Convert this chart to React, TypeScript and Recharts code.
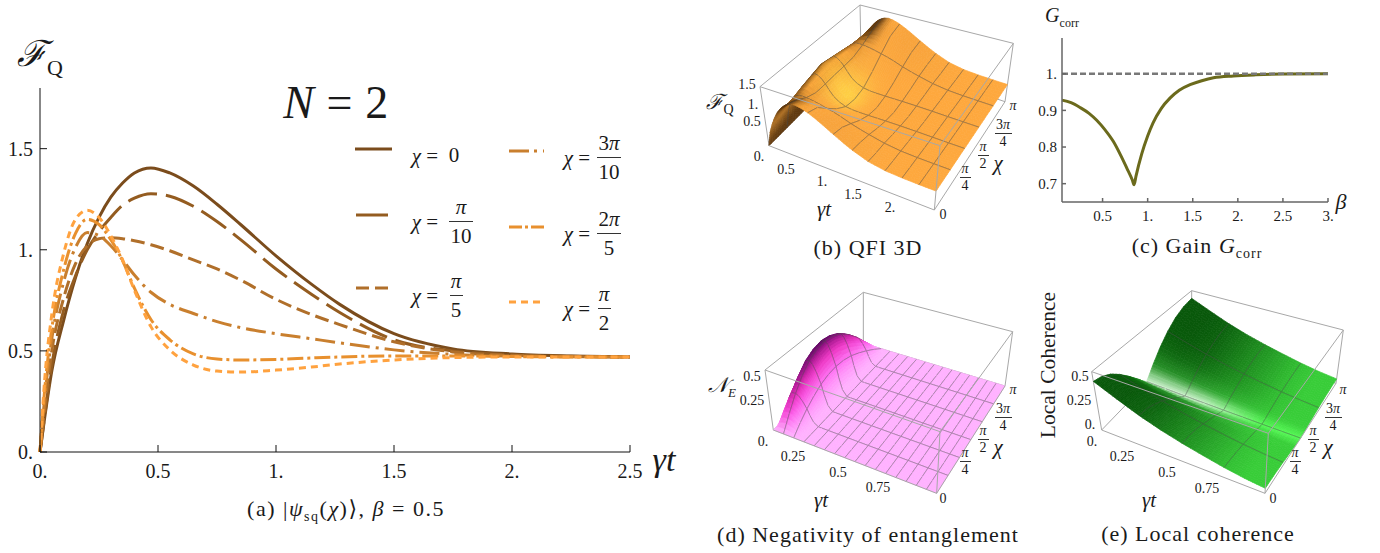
import { LineChart, Line, ScatterChart, Scatter, XAxis, YAxis } from 'recharts'

const SERIF = '"Liberation Serif", "DejaVu Serif", serif'

// panel (a): F_Q against gamma t for each chi
const gammaT = [0, 0.02, 0.05, 0.1, 0.15, 0.2, 0.25, 0.3, 0.35, 0.4, 0.47, 0.55, 0.65, 0.75, 0.85, 1, 1.15, 1.27, 1.5, 1.75, 2, 2.25, 2.5]
const chi0 = [0, 0.17, 0.4, 0.65, 0.86, 1.03, 1.16, 1.26, 1.33, 1.38, 1.405, 1.38, 1.315, 1.225, 1.125, 0.97, 0.83, 0.73, 0.585, 0.51, 0.485, 0.475, 0.47]
const chiPi10 = [0, 0.18, 0.43, 0.7, 0.87, 1.0, 1.09, 1.16, 1.22, 1.255, 1.277, 1.265, 1.215, 1.14, 1.05, 0.905, 0.78, 0.69, 0.555, 0.5, 0.48, 0.473, 0.47]
const chiPi5 = [0, 0.22, 0.5, 0.76, 0.93, 1.02, 1.055, 1.06, 1.055, 1.045, 1.025, 0.995, 0.95, 0.905, 0.85, 0.755, 0.68, 0.63, 0.545, 0.495, 0.478, 0.472, 0.47]
const chi3Pi10 = [0, 0.27, 0.56, 0.84, 1.01, 1.085, 1.07, 1.02, 0.95, 0.875, 0.79, 0.73, 0.685, 0.645, 0.615, 0.585, 0.56, 0.54, 0.505, 0.483, 0.474, 0.471, 0.47]
const chi2Pi5 = [0, 0.31, 0.61, 0.9, 1.08, 1.15, 1.125, 1.05, 0.945, 0.81, 0.655, 0.555, 0.485, 0.46, 0.455, 0.458, 0.465, 0.47, 0.475, 0.475, 0.472, 0.47, 0.47]
const chiPi2 = [0, 0.36, 0.68, 0.98, 1.15, 1.195, 1.16, 1.07, 0.95, 0.8, 0.62, 0.505, 0.43, 0.4, 0.395, 0.405, 0.42, 0.435, 0.455, 0.467, 0.47, 0.47, 0.47]

const tableA = gammaT.map((t, i) => ({
  t,
  chi0: chi0[i],
  chiPi10: chiPi10[i],
  chiPi5: chiPi5[i],
  chi3Pi10: chi3Pi10[i],
  chi2Pi5: chi2Pi5[i],
  chiPi2: chiPi2[i],
}))

const seriesA = [
  { key: 'chi0', color: '#7b4c1c', dash: undefined },
  { key: 'chiPi10', color: '#945c20', dash: '30 9' },
  { key: 'chiPi5', color: '#b06f2a', dash: '14 6' },
  { key: 'chi3Pi10', color: '#c97f2e', dash: '20 6 3 6' },
  { key: 'chi2Pi5', color: '#e8902e', dash: '16 4 3 4' },
  { key: 'chiPi2', color: '#ffa23f', dash: '7 5' },
]

// panel (c): gain
const beta = [0.05, 0.15, 0.25, 0.35, 0.435, 0.53, 0.62, 0.7, 0.77, 0.83, 0.85, 0.87, 0.935, 1.0, 1.06, 1.15, 1.25, 1.35, 1.47, 1.6, 1.73, 1.95, 2.2, 2.5, 3]
const gain = [0.928, 0.921, 0.908, 0.892, 0.873, 0.846, 0.815, 0.778, 0.742, 0.71, 0.697, 0.72, 0.782, 0.83, 0.866, 0.905, 0.934, 0.955, 0.97, 0.981, 0.989, 0.994, 0.997, 0.999, 1]
const tableC = beta.map((b, i) => ({ b, g: gain[i], level: 1 }))

// panel (d): negativity, half of the chi range (the other half mirrors it)
const negT = [0, 0.02, 0.04, 0.0625, 0.08, 0.1, 0.125, 0.14, 0.16, 0.1875, 0.21, 0.25, 0.3125, 0.375, 0.4375, 0.5, 0.5625, 0.625, 0.6875, 0.75, 0.8125, 0.875, 0.9375, 1]
const negFlat = [0, 0, 0, 0, 0, 0, 0, 0, 0, 0, 0, 0, 0]
const negRows = [
  [0, 0, 0, 0, 0, 0, 0, 0, 0, 0, 0],
  [0, 0.11, 0.14, 0.14, 0.135, 0.11, 0.08, 0.045, 0.015, 0, 0],
  [0, 0.21, 0.27, 0.275, 0.26, 0.22, 0.15, 0.09, 0.03, 0, 0],
  [0, 0.3, 0.38, 0.39, 0.37, 0.31, 0.21, 0.12, 0.04, 0, 0],
  [0, 0.36, 0.47, 0.48, 0.45, 0.38, 0.26, 0.155, 0.05, 0, 0],
  [0, 0.4, 0.52, 0.53, 0.5, 0.425, 0.29, 0.17, 0.055, 0, 0],
  [0, 0.42, 0.54, 0.55, 0.52, 0.44, 0.3, 0.18, 0.06, 0, 0],
]
const negChi = [0, 1 / 12, 2 / 12, 3 / 12, 4 / 12, 5 / 12, 6 / 12, 7 / 12, 8 / 12, 9 / 12, 10 / 12, 11 / 12, 1]

// panel (e): local coherence, half of the chi range
const cohT = [0, 0.125, 0.25, 0.375, 0.5, 0.625, 0.75, 0.875, 1]
const cohChi = [0, 0.083, 0.167, 0.25, 0.333, 0.417, 0.46, 0.5, 0.54, 0.583, 0.667, 0.75, 0.833, 0.917, 1]
const cohRows = [
  [0.5, 0.4, 0.31, 0.24, 0.185, 0.14, 0.1, 0.07, 0.05],
  [0.48, 0.385, 0.3, 0.23, 0.18, 0.135, 0.095, 0.067, 0.048],
  [0.43, 0.345, 0.265, 0.205, 0.16, 0.12, 0.085, 0.06, 0.043],
  [0.35, 0.28, 0.22, 0.17, 0.13, 0.098, 0.07, 0.05, 0.035],
  [0.25, 0.2, 0.155, 0.12, 0.09, 0.07, 0.05, 0.035, 0.025],
  [0.135, 0.108, 0.084, 0.065, 0.05, 0.038, 0.027, 0.019, 0.014],
  [0.07, 0.056, 0.043, 0.034, 0.026, 0.02, 0.014, 0.01, 0.007],
  [0.02, 0.016, 0.012, 0.01, 0.007, 0.006, 0.004, 0.003, 0.002],
]

type P = [number, number]
type RGB = [number, number, number]

const clamp = (v: number, a = 0, b = 1) => Math.min(b, Math.max(a, v))
const mixRGB = (a: RGB, b: RGB, k: number): RGB => [a[0] + (b[0] - a[0]) * k, a[1] + (b[1] - a[1]) * k, a[2] + (b[2] - a[2]) * k]
const css = (c: RGB) => `rgb(${c[0] | 0},${c[1] | 0},${c[2] | 0})`
const ramp = (stops: RGB[], k: number) => {
  const f = clamp(k) * (stops.length - 1)
  const i = Math.min(stops.length - 2, Math.floor(f))
  return mixRGB(stops[i], stops[i + 1], f - i)
}

interface SurfaceCfg {
  // box corners, as pixels times three: p = floor, q = lid, first digit t, second chi
  box: Record<'p00' | 'p10' | 'p11' | 'p01' | 'q00' | 'q10' | 'q11' | 'q01', P>
  us: number[]
  vs: number[]
  rows: number[][]
  zMax: number
  meshU: number[]
  meshV: number[]
  meshOpacity: number
  color: (u: number, v: number, z: number, dzdu: number, dzdv: number) => RGB
}

function buildMarks(cfg: SurfaceCfg) {
  const { box, us, vs, rows, zMax } = cfg
  const project = (u: number, v: number, w: number): P => {
    const lerp = (a: P, b: P, k: number): P => [a[0] + (b[0] - a[0]) * k, a[1] + (b[1] - a[1]) * k]
    const floor = lerp(lerp(box.p00, box.p10, u), lerp(box.p01, box.p11, u), v)
    const lid = lerp(lerp(box.q00, box.q10, u), lerp(box.q01, box.q11, u), v)
    const p = lerp(floor, lid, w)
    return [p[0] / 3, p[1] / 3]
  }
  const pts = rows.map((r, j) => r.map((z, i) => project(us[i], vs[j], z / zMax)))
  const cols = rows.map((r, j) =>
    r.map((z, i) => {
      const i0 = Math.max(0, i - 1), i1 = Math.min(r.length - 1, i + 1)
      const j0 = Math.max(0, j - 1), j1 = Math.min(rows.length - 1, j + 1)
      const dzdu = (r[i1] - r[i0]) / (us[i1] - us[i0]) / zMax
      const dzdv = (rows[j1][i] - rows[j0][i]) / (vs[j1] - vs[j0]) / zMax
      return cfg.color(us[i], vs[j], z, dzdu, dzdv)
    })
  )
  const marks: any[] = []
  const seg = (a: P, b: P) => {
    const x = (a[0] + b[0]) / 6, y = (a[1] + b[1]) / 6
    marks.push({ x, y, seg: [a[0] / 3 - x, a[1] / 3 - y, b[0] / 3 - x, b[1] / 3 - y] })
  }
  seg(box.q00, box.p00)
  seg(box.q00, box.q01)
  seg(box.q01, box.q11)
  seg(box.q01, box.p01)
  seg(box.q11, box.p11)
  seg(box.p00, box.p01)
  seg(box.p01, box.p11)
  // far cells first so that the hills hide what is behind them
  for (let j = rows.length - 2; j >= 0; j--) {
    for (let i = 0; i < us.length - 1; i++) {
      const c = [pts[j][i], pts[j][i + 1], pts[j + 1][i + 1], pts[j + 1][i]]
      const x = (c[0][0] + c[2][0]) / 2, y = (c[0][1] + c[2][1]) / 2
      marks.push({
        x,
        y,
        corners: c.map((p) => [p[0] - x, p[1] - y]),
        colors: [cols[j][i], cols[j][i + 1], cols[j + 1][i + 1], cols[j + 1][i]],
        meshA: cfg.meshU.includes(i),
        meshB: cfg.meshV.includes(j),
        meshC: i === us.length - 2 ? false : cfg.meshU.includes(i + 1),
        meshD: cfg.meshV.includes(j + 1),
        meshOpacity: cfg.meshOpacity,
      })
    }
  }
  seg(box.q00, box.q10)
  seg(box.q10, box.q11)
  seg(box.q10, box.p10)
  seg(box.p00, box.p10)
  seg(box.p10, box.p11)
  return marks
}

function SurfaceMark(props: any) {
  const { cx, cy, payload: m } = props
  if (m.seg) {
    return <line x1={cx + m.seg[0]} y1={cy + m.seg[1]} x2={cx + m.seg[2]} y2={cy + m.seg[3]} stroke="#a8a8a8" strokeWidth={1} />
  }
  const abs: P[] = m.corners.map((p: P) => [cx + p[0], cy + p[1]])
  const size = Math.max(Math.hypot(abs[0][0] - abs[2][0], abs[0][1] - abs[2][1]), Math.hypot(abs[1][0] - abs[3][0], abs[1][1] - abs[3][1]))
  const n = Math.min(6, Math.max(1, Math.ceil(size / 6)))
  const at = (a: number, b: number): P => {
    const x0 = abs[0][0] + (abs[1][0] - abs[0][0]) * a, y0 = abs[0][1] + (abs[1][1] - abs[0][1]) * a
    const x1 = abs[3][0] + (abs[2][0] - abs[3][0]) * a, y1 = abs[3][1] + (abs[2][1] - abs[3][1]) * a
    return [x0 + (x1 - x0) * b, y0 + (y1 - y0) * b]
  }
  const colorAt = (a: number, b: number) => mixRGB(mixRGB(m.colors[0], m.colors[1], a), mixRGB(m.colors[3], m.colors[2], a), b)
  const polys = []
  for (let a = 0; a < n; a++) {
    for (let b = 0; b < n; b++) {
      const q = [at(a / n, b / n), at((a + 1) / n, b / n), at((a + 1) / n, (b + 1) / n), at(a / n, (b + 1) / n)]
      const fill = css(colorAt((a + 0.5) / n, (b + 0.5) / n))
      polys.push(<polygon key={`${a}-${b}`} points={q.map((p) => p.join(',')).join(' ')} fill={fill} stroke={fill} strokeWidth={0.7} />)
    }
  }
  const mesh = { stroke: '#4a4a4a', strokeOpacity: m.meshOpacity, strokeWidth: 0.8 }
  return (
    <g>
      {polys}
      {m.meshA && <line x1={abs[0][0]} y1={abs[0][1]} x2={abs[3][0]} y2={abs[3][1]} {...mesh} />}
      {m.meshC && <line x1={abs[1][0]} y1={abs[1][1]} x2={abs[2][0]} y2={abs[2][1]} {...mesh} />}
      {m.meshB && <line x1={abs[0][0]} y1={abs[0][1]} x2={abs[1][0]} y2={abs[1][1]} {...mesh} />}
      {m.meshD && <line x1={abs[3][0]} y1={abs[3][1]} x2={abs[2][0]} y2={abs[2][1]} {...mesh} />}
    </g>
  )
}

function Surface({ left, top, w, h, cfg }: { left: number; top: number; w: number; h: number; cfg: SurfaceCfg }) {
  return (
    <div style={{ position: 'absolute', left, top }}>
      <ScatterChart width={w} height={h} margin={{ top: 0, right: 0, bottom: 0, left: 0 }}>
        <XAxis hide type="number" dataKey="x" domain={[0, w]} />
        <YAxis hide type="number" dataKey="y" domain={[0, h]} reversed />
        <Scatter data={buildMarks(cfg)} shape={SurfaceMark} isAnimationActive={false} />
      </ScatterChart>
    </div>
  )
}

const qfiCfg: SurfaceCfg = {
  box: { p00: [237, 437], p10: [733, 630], p11: [945, 305], p01: [513, 160], q00: [210, 260], q10: [750, 437], q11: [970, 130], q01: [510, 15] },
  us: gammaT.map((t) => t / 2.5),
  vs: [0, 0.1, 0.2, 0.3, 0.4, 0.5, 0.6, 0.7, 0.8, 0.9, 1],
  rows: [chi0, chiPi10, chiPi5, chi3Pi10, chi2Pi5, chiPi2, chi2Pi5, chi3Pi10, chiPi5, chiPi10, chi0],
  zMax: 1.6,
  meshU: [8, 12, 15, 17, 18, 19, 20, 21],
  meshV: [2, 4, 6, 8],
  meshOpacity: 0.55,
  color: (u, v, z, dzdu) => {
    const orange: RGB = [255, 169, 62]
    const brown: RGB = [96, 58, 16]
    const yellow: RGB = [255, 214, 70]
    const dark = clamp(clamp((dzdu + 0.7) / 2.2) * clamp((z - 0.75) / 0.5) + clamp(dzdu / 14) + clamp(-dzdu / 3) * 0.08)
    const glow = Math.exp(-(((u - 0.22) / 0.1) ** 2) - ((v - 0.5) / 0.15) ** 2)
    return mixRGB(mixRGB(orange, brown, dark * (1 - glow)), yellow, glow * 0.9)
  },
}

const negCfg: SurfaceCfg = {
  box: { p00: [250, 450], p10: [740, 640], p11: [945, 318], p01: [520, 190], q00: [225, 270], q10: [750, 455], q11: [968, 155], q01: [520, 37] },
  us: negT,
  vs: negChi,
  rows: [...negRows, ...negRows.slice(0, 6).reverse()].map((r) => [...r, ...negFlat]),
  zMax: 0.625,
  meshU: [3, 6, 9, 11, 12, 13, 14, 15, 16, 17, 18, 19, 20, 21, 22],
  meshV: [2, 4, 6, 8, 10],
  meshOpacity: 0.5,
  color: (u, _v, z) => {
    const stops: RGB[] = [[255, 178, 255], [255, 100, 240], [235, 50, 190], [160, 24, 140], [90, 10, 96]]
    return ramp(stops, (z / 0.55) ** 0.7 * clamp(1.45 - u * 9))
  },
}

const cohCfg: SurfaceCfg = {
  box: { p00: [215, 450], p10: [705, 640], p11: [918, 310], p01: [485, 170], q00: [185, 275], q10: [715, 460], q11: [940, 150], q01: [485, 32] },
  us: cohT,
  vs: cohChi,
  rows: [...cohRows, ...cohRows.slice(0, 7).reverse()],
  zMax: 0.6,
  meshU: [2, 4, 6],
  meshV: [3, 7, 11],
  meshOpacity: 0.5,
  color: (u, v) => {
    const dark: RGB = [8, 88, 10]
    const mid: RGB = [56, 205, 56]
    const d = Math.abs(v - 0.5)
    const base = mixRGB(dark, mid, clamp((u - 0.2) * 1.6))
    const near = Math.exp(-((d / 0.14) ** 2)) * 0.6
    const band = Math.exp(-((d / 0.05) ** 2))
    const light = mixRGB([232, 255, 232], [90, 255, 90], clamp((u - 0.35) * 2.5))
    return mixRGB(mixRGB(base, mid, near), light, band * 0.9)
  },
}

const tickLabel = (v: number) => (Number.isInteger(v) ? `${v}.` : `${v}`)

function Txt({ x, y, size = 15, italic, rotate, spacing, children }: any) {
  return (
    <div
      style={{
        position: 'absolute',
        left: x,
        top: y,
        transform: `translate(-50%, -50%)${rotate ? ` rotate(${rotate}deg)` : ''}`,
        fontSize: size,
        fontStyle: italic ? 'italic' : 'normal',
        letterSpacing: spacing,
        whiteSpace: 'nowrap',
        lineHeight: 1,
      }}
    >
      {children}
    </div>
  )
}

function Frac({ x, y, num, den, size = 15, gap = 10, bar = 14 }: any) {
  return (
    <>
      <Txt x={x} y={y - gap} size={size}>{num}</Txt>
      <div style={{ position: 'absolute', left: x - bar / 2, top: y, width: bar, height: 1, background: '#333' }} />
      <Txt x={x} y={y + gap + 1} size={size}>{den}</Txt>
    </>
  )
}

function ChiTicks({ dx = 0, dy = 0 }: { dx?: number; dy?: number }) {
  return (
    <>
      <Txt x={943 + dx} y={215 + dy} size={14}>0</Txt>
      <Frac x={965 + dx} y={177 + dy} num={<i>π</i>} den="4" size={14} gap={8} bar={11} />
      <Frac x={983 + dx} y={155 + dy} num={<i>π</i>} den="2" size={14} gap={8} bar={11} />
      <Frac x={1003 + dx} y={133 + dy} num={<>3<i>π</i></>} den="4" size={14} gap={8} bar={17} />
      <Txt x={1013 + dx} y={106 + dy} size={14} italic>π</Txt>
      <Txt x={998 + dx} y={163 + dy} size={21} italic>χ</Txt>
    </>
  )
}

function Sample({ x, y, w, color, dash }: any) {
  return (
    <svg style={{ position: 'absolute', left: x, top: y - 3 }} width={w} height={6}>
      <line x1={0} y1={3} x2={w} y2={3} stroke={color} strokeWidth={3} strokeDasharray={dash} />
    </svg>
  )
}

function ChiLabel({ x, y }: any) {
  return <Txt x={x} y={y} size={21}><i>χ</i> =</Txt>
}

export default function App() {
  const tickA = { fontFamily: SERIF, fontSize: 20, fill: '#1a1a1a' }
  const tickC = { fontFamily: SERIF, fontSize: 15, fill: '#1a1a1a' }
  return (
    <div style={{ position: 'absolute', left: 0, top: 0, width: 1380, height: 553, overflow: 'hidden', background: '#fff', color: '#1a1a1a', fontFamily: SERIF }}>
      <div style={{ position: 'absolute', left: 0, top: 78 }}>
        <LineChart width={650} height={414} data={tableA} margin={{ top: 10, right: 20, bottom: 0, left: 0 }}>
          <XAxis dataKey="t" type="number" domain={[0, 2.5]} ticks={[0, 0.5, 1, 1.5, 2, 2.5]} interval={0} height={40} tickSize={-7} tickMargin={19} tickFormatter={tickLabel} tick={tickA} stroke="#111" />
          <YAxis type="number" domain={[0, 1.8]} ticks={[0, 0.5, 1, 1.5]} interval={0} width={40} tickSize={-7} tickMargin={14} tickFormatter={tickLabel} tick={tickA} stroke="#111" />
          {seriesA.map((s) => (
            <Line key={s.key} dataKey={s.key} type="monotone" stroke={s.color} strokeWidth={3} strokeDasharray={s.dash} dot={false} isAnimationActive={false} />
          ))}
        </LineChart>
      </div>

      <Txt x={40} y={54} size={36} italic>ℱ<span style={{ fontSize: 22, fontStyle: 'normal', position: 'relative', top: 9 }}>Q</span></Txt>
      <Txt x={664} y={460} size={34} italic>γt</Txt>
      <Txt x={336} y={103} size={46} spacing={0.6}><i>N</i> = 2</Txt>

      <Sample x={355} y={149} w={37} color={seriesA[0].color} />
      <ChiLabel x={425} y={156} />
      <Txt x={454} y={155} size={21}>0</Txt>
      <Sample x={356} y={215} w={32} color={seriesA[1].color} />
      <ChiLabel x={425} y={222} />
      <Frac x={461} y={221} num={<i>π</i>} den="10" size={21} gap={14} bar={24} />
      <Sample x={356} y={288} w={32} color={seriesA[2].color} dash="13 6" />
      <ChiLabel x={425} y={296} />
      <Frac x={456} y={295} num={<i>π</i>} den="5" size={21} gap={14} bar={13} />
      <Sample x={509} y={151} w={35} color={seriesA[3].color} dash="20 5 3 6" />
      <ChiLabel x={577} y={158} />
      <Frac x={609} y={157} num={<>3<i>π</i></>} den="10" size={21} gap={14} bar={24} />
      <Sample x={509} y={227} w={35} color={seriesA[4].color} dash="13 3 3 3" />
      <ChiLabel x={577} y={234} />
      <Frac x={609} y={233} num={<>2<i>π</i></>} den="5" size={21} gap={14} bar={24} />
      <Sample x={509} y={302} w={31} color={seriesA[5].color} dash="7 5" />
      <ChiLabel x={577} y={309} />
      <Frac x={604} y={308} num={<i>π</i>} den="2" size={21} gap={14} bar={13} />

      <Txt x={346} y={511} size={22} spacing={1.5}>(a) |<i>ψ</i><sub style={{ fontSize: 14 }}>sq</sub>(<i>χ</i>)⟩, <i>β</i> = 0.5</Txt>

      <Surface left={690} top={0} w={340} h={270} cfg={qfiCfg} />
      <Txt x={720} y={102} size={21} italic>ℱ<span style={{ fontSize: 14, fontStyle: 'normal', position: 'relative', top: 5 }}>Q</span></Txt>
      <Txt x={747} y={85} size={14}>1.5</Txt>
      <Txt x={753} y={105} size={14}>1.</Txt>
      <Txt x={752} y={122} size={14}>0.5</Txt>
      <Txt x={759} y={157} size={14}>0.</Txt>
      <Txt x={786} y={170} size={14}>0.5</Txt>
      <Txt x={822} y={182} size={14}>1.</Txt>
      <Txt x={853} y={195} size={14}>1.5</Txt>
      <Txt x={890} y={208} size={14}>2.</Txt>
      <Txt x={824} y={209} size={21} italic>γt</Txt>
      <ChiTicks />
      <Txt x={868} y={248} size={22} spacing={1}>(b) QFI 3D</Txt>

      <div style={{ position: 'absolute', left: 1022, top: 28 }}>
        <LineChart width={326} height={204} data={tableC} margin={{ top: 10, right: 20, bottom: 0, left: 0 }}>
          <XAxis dataKey="b" type="number" domain={[0.05, 3]} ticks={[0.5, 1, 1.5, 2, 2.5, 3]} interval={0} height={30} tickSize={-4} tickMargin={12} tickFormatter={tickLabel} tick={tickC} stroke="#666" strokeWidth={1.5} />
          <YAxis type="number" domain={[0.65, 1.0975]} ticks={[0.7, 0.8, 0.9, 1]} interval={0} width={40} tickSize={-4} tickMargin={9} tickFormatter={tickLabel} tick={tickC} stroke="#666" strokeWidth={1.5} allowDataOverflow />
          <Line dataKey="g" type="monotone" stroke="#6b6a1c" strokeWidth={3} dot={false} isAnimationActive={false} />
          <Line dataKey="level" type="linear" stroke="#787878" strokeWidth={2.5} strokeDasharray="6 3" dot={false} isAnimationActive={false} />
        </LineChart>
      </div>
      <Txt x={1062} y={17} size={20} italic>G<sub style={{ fontSize: 12, fontStyle: 'normal' }}>corr</sub></Txt>
      <Txt x={1341} y={202} size={22} italic>β</Txt>
      <Txt x={1197} y={248} size={22} spacing={1}>(c) Gain <i>G</i><sub style={{ fontSize: 14 }}>corr</sub></Txt>

      <Surface left={690} top={280} w={340} h={270} cfg={negCfg} />
      <Txt x={722} y={387} size={21} italic>𝒩<sub style={{ fontSize: 13 }}>E</sub></Txt>
      <Txt x={752} y={377} size={14}>0.5</Txt>
      <Txt x={752} y={401} size={14}>0.25</Txt>
      <Txt x={763} y={442} size={14}>0.</Txt>
      <Txt x={793} y={457} size={14}>0.25</Txt>
      <Txt x={838} y={473} size={14}>0.5</Txt>
      <Txt x={878} y={488} size={14}>0.75</Txt>
      <Txt x={821} y={500} size={21} italic>γt</Txt>
      <ChiTicks dy={284} />
      <Txt x={868} y={535} size={22} spacing={1}>(d) Negativity of entanglement</Txt>

      <Surface left={1030} top={280} w={350} h={270} cfg={cohCfg} />
      <Txt x={1049} y={365} size={21.5} rotate={-90}>Local Coherence</Txt>
      <Txt x={1080} y={377} size={14}>0.5</Txt>
      <Txt x={1079} y={401} size={14}>0.25</Txt>
      <Txt x={1090} y={425} size={14}>0.</Txt>
      <Txt x={1092} y={442} size={14}>0.</Txt>
      <Txt x={1122} y={457} size={14}>0.25</Txt>
      <Txt x={1167} y={473} size={14}>0.5</Txt>
      <Txt x={1207} y={489} size={14}>0.75</Txt>
      <Txt x={1149} y={500} size={21} italic>γt</Txt>
      <ChiTicks dx={330} dy={284} />
      <Txt x={1198} y={534} size={22} spacing={1}>(e) Local coherence</Txt>
    </div>
  )
}
